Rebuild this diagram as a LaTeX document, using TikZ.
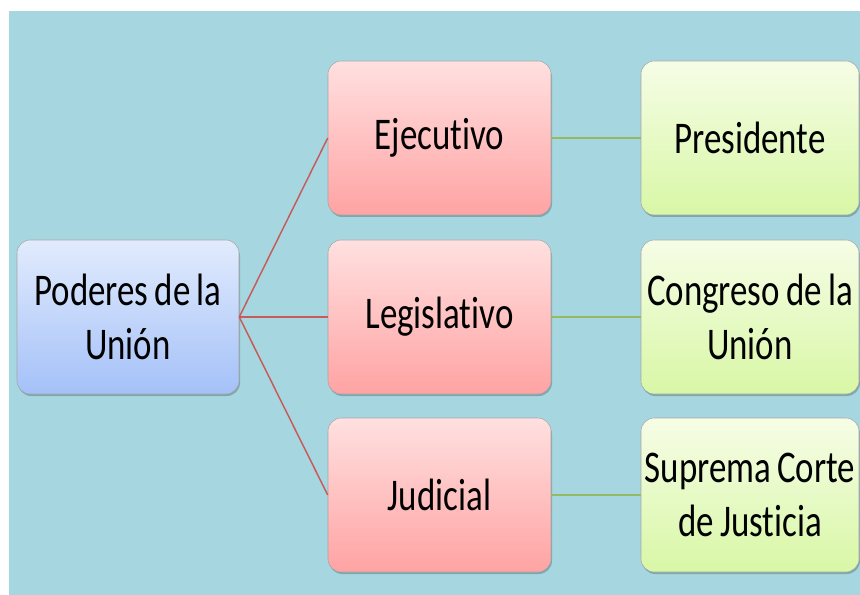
\documentclass[tikz,border=0pt]{standalone}
\usepackage{fontspec}
\setmainfont[FakeStretch=0.77,WordSpace=0.8,Ligatures=NoCommon]{Carlito}
\begin{document}
\begin{tikzpicture}[x=0.75pt,y=-0.75pt,
  every node/.style={font=\fontsize{34}{40}\selectfont, align=center, text=black},
  boxbase/.style={rectangle, rounded corners=10pt, draw=black!35, line width=0.4pt,
     minimum width=167.25pt, minimum height=115.5pt, inner sep=0pt},
  bluebox/.style={boxbase, minimum width=166.5pt, top color=blueTop, bottom color=blueBot},
  redbox/.style={boxbase, top color=redTop, bottom color=redBot},
  greenbox/.style={boxbase, minimum width=163.5pt, top color=greenTop, bottom color=greenBot},
  shadowbox/.style={fill=black, opacity=0.22, rounded corners=10pt},
  redlink/.style={draw=linkRed, line width=1.1pt},
  greenlink/.style={draw=linkGreen, line width=1.3pt}
]
\definecolor{bg}{RGB}{166,214,224}
\definecolor{blueTop}{RGB}{226,235,253}
\definecolor{blueBot}{RGB}{164,193,248}
\definecolor{redTop}{RGB}{255,224,224}
\definecolor{redBot}{RGB}{255,163,163}
\definecolor{greenTop}{RGB}{246,253,230}
\definecolor{greenBot}{RGB}{216,247,166}
\definecolor{linkRed}{RGB}{200,90,90}
\definecolor{linkGreen}{RGB}{150,185,100}

\useasboundingbox (0,0) rectangle (860,595);
\fill[white] (0,0) rectangle (860,595);
\fill[bg] (9,11) rectangle (860,595);

% shadows
\foreach \xa/\ya/\xb/\yb in {17/240/239/394, 328/61/551/215, 328/240/551/394, 328/418/551/572, 641/61/859/215, 641/240/859/394, 641/418/859/572}{
  \fill[shadowbox] (\xa+1,\ya+3) rectangle (\xb+1,\yb+2);
}

\node[bluebox] (root) at (128,317) {Poderes de la\\Unión};
\node[redbox] (ej) at (439.5,138) {Ejecutivo};
\node[redbox] (le) at (439.5,317) {Legislativo};
\node[redbox] (ju) at (439.5,495) {Judicial};
\node[greenbox] (pr) at (750,138) {Presidente};
\node[greenbox] (co) at (750,317) {Congreso de la\\Unión};
\node[greenbox] (sc) at (750,495) {Suprema Corte\\de Justicia};

\draw[redlink] (root.east) -- (ej.west);
\draw[redlink] (root.east) -- (le.west);
\draw[redlink] (root.east) -- (ju.west);
\draw[greenlink] (ej.east) -- (pr.west);
\draw[greenlink] (le.east) -- (co.west);
\draw[greenlink] (ju.east) -- (sc.west);
\end{tikzpicture}
\end{document}
